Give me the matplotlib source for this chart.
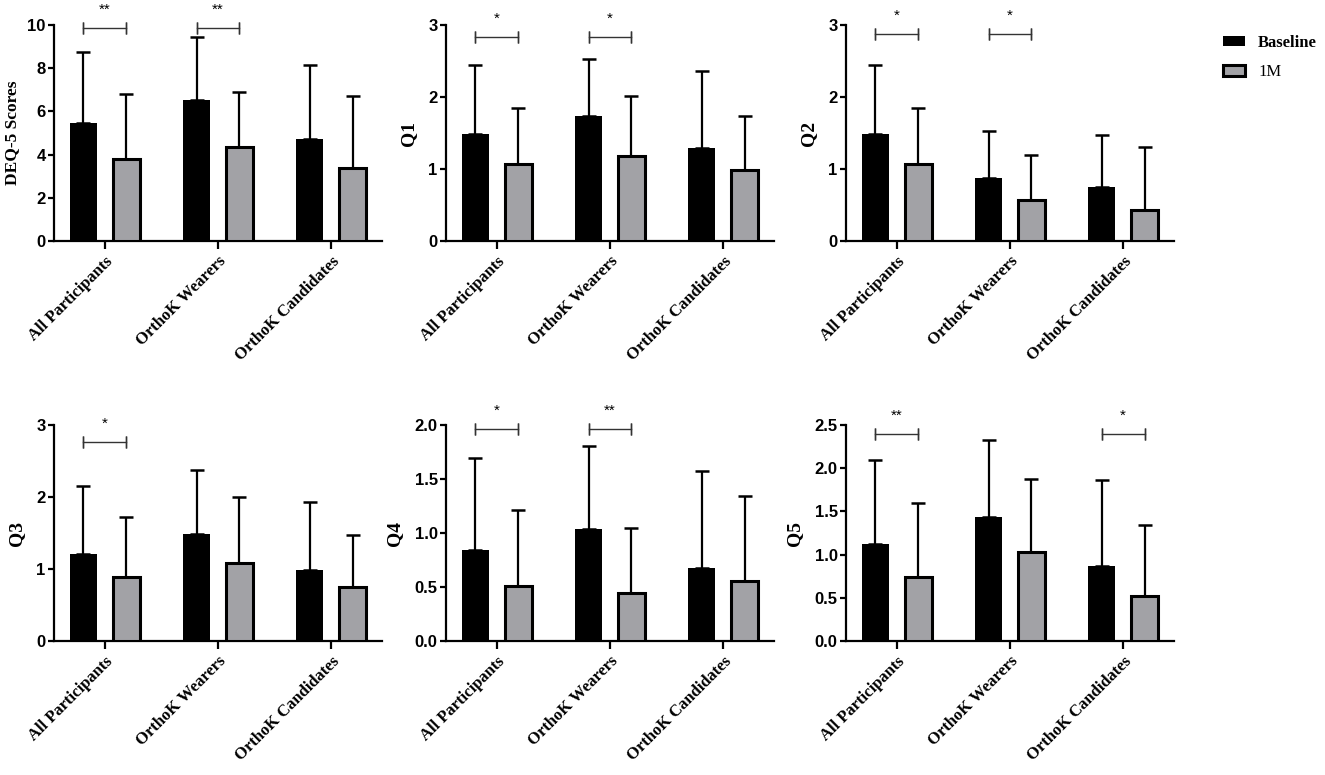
import numpy as np
import matplotlib
matplotlib.use("Agg")
import matplotlib.pyplot as plt
from matplotlib.patches import Patch
from matplotlib.ticker import FormatStrFormatter

serif = "Liberation Serif"
sans = "Liberation Sans"

categories = ["All Participants", "OrthoK Wearers", "OrthoK Candidates"]
panel_labels = ["DEQ-5 Scores", "Q1", "Q2", "Q3", "Q4", "Q5"]

deq5_base = [5.47, 6.55, 4.73]
deq5_base_sd = [3.29, 2.88, 3.40]
deq5_1m = [3.79, 4.36, 3.40]
deq5_1m_sd = [3.01, 2.55, 3.31]

q1_base = [1.48, 1.73, 1.29]
q1_base_sd = [0.97, 0.80, 1.07]
q1_1m = [1.07, 1.18, 0.98]
q1_1m_sd = [0.78, 0.84, 0.76]

q2_base = [1.48, 0.88, 0.75]
q2_base_sd = [0.97, 0.65, 0.72]
q2_1m = [1.07, 0.57, 0.43]
q2_1m_sd = [0.78, 0.62, 0.88]

q3_base = [1.21, 1.48, 0.98]
q3_base_sd = [0.94, 0.90, 0.95]
q3_1m = [0.89, 1.08, 0.75]
q3_1m_sd = [0.83, 0.92, 0.72]

q4_base = [0.84, 1.04, 0.68]
q4_base_sd = [0.85, 0.77, 0.89]
q4_1m = [0.51, 0.44, 0.56]
q4_1m_sd = [0.70, 0.61, 0.78]

q5_base = [1.12, 1.44, 0.87]
q5_base_sd = [0.98, 0.89, 0.99]
q5_1m = [0.74, 1.03, 0.52]
q5_1m_sd = [0.86, 0.84, 0.82]

# (group index, stars, bracket height)
sig_deq5 = [(0, "**", 9.88), (1, "**", 9.88)]
sig_q1 = [(0, "*", 2.84), (1, "*", 2.84)]
sig_q2 = [(0, "*", 2.87), (1, "*", 2.87)]
sig_q3 = [(0, "*", 2.77)]
sig_q4 = [(0, "*", 1.96), (1, "**", 1.96)]
sig_q5 = [(0, "**", 2.40), (2, "*", 2.40)]

y_max = [10, 3, 3, 3, 2.0, 2.5]
y_step = [2, 1, 1, 1, 0.5, 0.5]

panels = [
    (deq5_base, deq5_base_sd, deq5_1m, deq5_1m_sd, sig_deq5),
    (q1_base, q1_base_sd, q1_1m, q1_1m_sd, sig_q1),
    (q2_base, q2_base_sd, q2_1m, q2_1m_sd, sig_q2),
    (q3_base, q3_base_sd, q3_1m, q3_1m_sd, sig_q3),
    (q4_base, q4_base_sd, q4_1m, q4_1m_sd, sig_q4),
    (q5_base, q5_base_sd, q5_1m, q5_1m_sd, sig_q5),
]

W, H = 1325, 775
fig = plt.figure(figsize=(W / 100, H / 100), dpi=100)

col_left = [54, 446, 846]
row_top = [25, 425]
ax_w = 328
ax_h = 216

gray = "#a2a2a6"
offset = 0.19
bar_w = 0.24
x = np.arange(len(categories))

for i, (base, base_sd, m1, m1_sd, sig) in enumerate(panels):
    r, c = divmod(i, 3)
    ax = fig.add_axes([
        col_left[c] / W,
        1 - (row_top[r] + ax_h) / H,
        ax_w / W,
        ax_h / H,
    ])

    ax.bar(x - offset, base, bar_w, color="black", edgecolor="black",
           linewidth=0, zorder=3)
    ax.bar(x + offset, m1, bar_w, color=gray, edgecolor="black",
           linewidth=2.2, zorder=3)

    ax.errorbar(x - offset, base, yerr=[np.zeros(3), base_sd], fmt="none",
                ecolor="black", elinewidth=1.6, capsize=5, capthick=1.8,
                zorder=2)
    ax.errorbar(x + offset, m1, yerr=[np.zeros(3), m1_sd], fmt="none",
                ecolor="black", elinewidth=1.6, capsize=5, capthick=1.8,
                zorder=2)

    for g, stars, yb in sig:
        x0 = g - offset
        x1 = g + offset
        ax.plot([x0, x1], [yb, yb], color="#333333", lw=1.0,
                clip_on=False)
        ax.plot([x0, x0], [yb, yb], marker="|", ms=8, color="#333333",
                mew=1.0, clip_on=False)
        ax.plot([x1, x1], [yb, yb], marker="|", ms=8, color="#333333",
                mew=1.0, clip_on=False)
        ax.annotate(stars, (g, yb), xytext=(0, 8),
                    textcoords="offset points", ha="center", va="bottom",
                    fontsize=11, family=sans, clip_on=False)

    ax.set_xlim(-0.45, 2.45)
    ax.set_ylim(0, y_max[i])
    ax.set_yticks(np.arange(0, y_max[i] + 1e-9, y_step[i]))
    if y_step[i] < 1:
        ax.yaxis.set_major_formatter(FormatStrFormatter("%.1f"))

    ax.set_xticks(x)
    ax.set_xticklabels(categories, rotation=45, ha="right",
                       rotation_mode="anchor", family=serif,
                       fontweight="bold", fontsize=12)

    for lab in ax.get_yticklabels():
        lab.set_family(sans)
        lab.set_fontweight("bold")
        lab.set_fontsize(12)

    ax.set_ylabel(panel_labels[i], family=serif, fontweight="bold",
                  fontsize=12.5 if i == 0 else 14,
                  labelpad=5 if i == 0 else 8)

    ax.spines["top"].set_visible(False)
    ax.spines["right"].set_visible(False)
    ax.spines["left"].set_linewidth(1.6)
    ax.spines["bottom"].set_linewidth(1.6)
    ax.tick_params(axis="y", width=1.6, length=4, pad=2)
    ax.tick_params(axis="x", width=1.6, length=6, pad=3)

handles = [
    Patch(facecolor="black", edgecolor="black", linewidth=0),
    Patch(facecolor=gray, edgecolor="black", linewidth=2.2),
]
leg = fig.legend(handles, ["Baseline", "1M"], loc="upper left",
                 bbox_to_anchor=(1223 / W, 1 - 35 / H), frameon=False,
                 borderpad=0, borderaxespad=0,
                 handlelength=1.3, handleheight=0.6, handletextpad=0.8,
                 labelspacing=0.8, prop={"family": serif, "size": 12})
leg.get_texts()[0].set_fontweight("bold")

fig.savefig("out.png", dpi=100)
